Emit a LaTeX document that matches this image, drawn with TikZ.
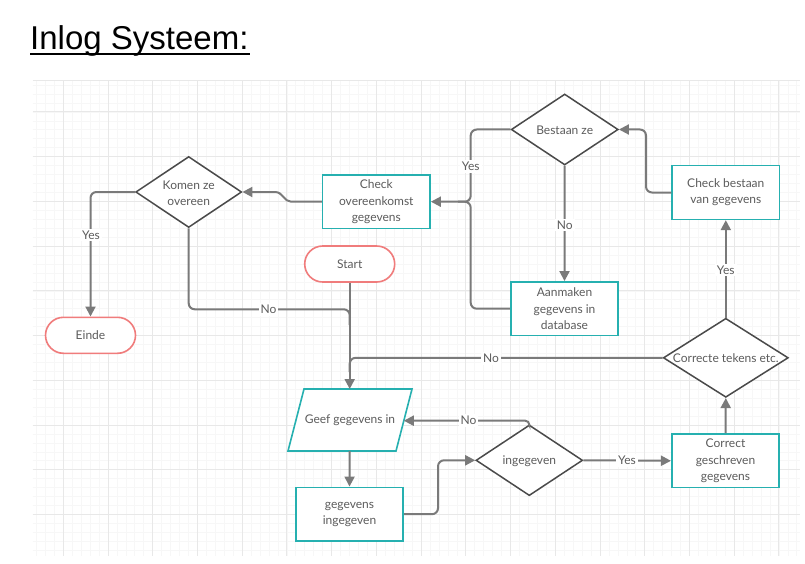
\documentclass[tikz,border=0pt]{standalone}
\usepackage{fontspec}
\newfontfamily\lato{Lato}
\newfontfamily\arialf{Liberation Sans}
\usetikzlibrary{arrows.meta,shapes.geometric}
\definecolor{teal1}{HTML}{26B0B0}
\definecolor{red1}{HTML}{F07C7C}
\definecolor{ln}{HTML}{7A7A7A}
\definecolor{dk}{HTML}{4A4A4A}
\definecolor{tx}{HTML}{5C5C5C}
\definecolor{gmaj}{HTML}{E8E8E8}
\definecolor{gmin}{HTML}{F7F7F7}
\tikzset{
 txt/.style={font=\lato\fontsize{12}{16.3}\selectfont, text=tx, align=center, inner sep=0pt},
 box/.style={txt, draw=teal1, line width=1.6pt, fill=white, minimum width=107.5pt, minimum height=53.7pt},
 term/.style={txt, draw=red1, line width=1.6pt, fill=white, rounded corners=18pt, minimum width=90pt, minimum height=36pt},
 dia/.style={diamond, draw=dk, line width=1.5pt, fill=white, inner sep=0pt},
 conn/.style={draw=ln, line width=2pt, rounded corners=6pt},
 arr/.style={conn, -{Triangle[length=10pt,width=10pt]}},
 lbl/.style={txt, fill=white, inner sep=2pt},
 gmajor/.style={draw=gmaj, line width=1pt},
 gminor/.style={draw=gmin, line width=0.8pt},
}
\begin{document}
\begin{tikzpicture}[x=1pt,y=-1pt]
\useasboundingbox[fill=white] (0,0) rectangle (805,564);
% grid
\foreach \i in {0,...,85} {\draw[gminor] ({36.46+\i*8.946},81) -- ({36.46+\i*8.946},555.7);}
\foreach \j in {0,...,52} {\draw[gminor] (32.7,{85.16+\j*8.946}) -- (800,{85.16+\j*8.946});}
\foreach \i in {0,...,16} {\draw[gmajor] ({63.3+\i*44.73},81) -- ({63.3+\i*44.73},555.7);}
\foreach \j in {0,...,9} {\draw[gmajor] (32.7,{112+\j*44.73}) -- (800,{112+\j*44.73});}
\draw[gmajor] (32.7,81) -- (800,81);

% title
\node[anchor=base west, inner sep=0pt, font=\arialf\fontsize{33}{38}\selectfont] (title) at (30,50) {Inlog Systeem:};
\draw[line width=2.3pt] (30,53.8) -- (250,53.8);

% nodes
\node[dia, minimum width=106pt, minimum height=71pt] (komen) at (188.7,192) {};
\node[txt] (komenT) at (188.7,193) {Komen ze\\overeen};
\node[box] (chkO) at (376.3,201.7) {Check\\overeenkomst\\gegevens};
\node[term] (start) at (349.7,264) {Start};
\node[term] (einde) at (90.5,335.3) {Einde};
\node[dia, minimum width=107pt, minimum height=71pt] (bestaan) at (564.7,129.5) {};
\node[txt] (bestaanT) at (564.7,130) {Bestaan ze};
\node[box] (chkB) at (725.8,192.5) {Check bestaan\\van gegevens};
\node[box] (aanm) at (564.5,308.7) {Aanmaken\\gegevens in\\database};
\node[dia, minimum width=125pt, minimum height=79pt] (correcte) at (725.8,357.8) {};
\node[txt] (correcteT) at (725.8,358.5) {Correcte tekens etc.};
\draw[draw=teal1, line width=1.6pt, fill=white] (304,389) -- (412,389) -- (396,451) -- (288,451) -- cycle;
\coordinate (geefT) at (349.7,389);
\coordinate (geefR) at (403.8,420.7);
\coordinate (geefB) at (349.7,451);
\node[txt] (geef) at (350,420.5) {Geef gegevens in};
\node[box] (gegIn) at (349.5,514.2) {gegevens\\ingegeven};
\node[dia, minimum width=106.7pt, minimum height=70.7pt] (ingeg) at (529.3,460.3) {};
\node[txt] (ingegT) at (529.3,461) {ingegeven};
\node[box] (corGes) at (725.5,460.8) {Correct\\geschreven\\gegevens};

% connectors
\draw[arr] (start.south) -- (geefT);
\draw[conn] (komen.south) -- (komen.south |- 0,309.3) -- (start.south |- 0,309.3) -- (start.south |- 0,325);
\draw[arr] (komen.west) -| (einde.north);
\draw[arr, rounded corners=0pt] (chkO.west) -- (291,201.7) .. controls (284,201.7) and (283,192) .. (275,192) -- (komen.east);
\draw[arr] (bestaan.west) -- (470.7,129.5) -- (470.7,201.7) -- (chkO.east);
\draw[conn] (aanm.west) -- (470.7,308.7) -- (470.7,201.7) -- (458,201.7);
\draw[arr] (bestaan.south) -- (aanm.north);
\draw[arr] (chkB.west) -- (646,192.5) -- (646,129.5) -- (bestaan.east);
\draw[arr] (corGes.north) -- (correcte.south);
\draw[arr] (correcte.north) -- (chkB.south);
\draw[conn] (correcte.west) -- (start.south |- correcte.west) -- (349.7,372);
\draw[arr] (geefB) -- (gegIn.north);
\draw[arr] (gegIn.east) -- (438,514.2) -- (438,460.3) -- (ingeg.west);
\draw[arr, rounded corners=4pt] (ingeg.north) -- (ingeg.north |- 0,420.7) -- (geefR);
\draw[arr] (ingeg.east) -- (corGes.west);

% labels
\node[lbl] (l1) at (268.5,309.3) {No};
\node[lbl] (l2) at (91,235) {Yes};
\node[lbl] (l3) at (470.7,166.7) {Yes};
\node[lbl] (l4) at (564.7,225) {No};
\node[lbl] (l5) at (725.8,270) {Yes};
\node[lbl] (l6) at (491,358.3) {No};
\node[lbl] (l7) at (468.5,420.7) {No};
\node[lbl] (l8) at (627,460.5) {Yes};
\end{tikzpicture}
\end{document}
